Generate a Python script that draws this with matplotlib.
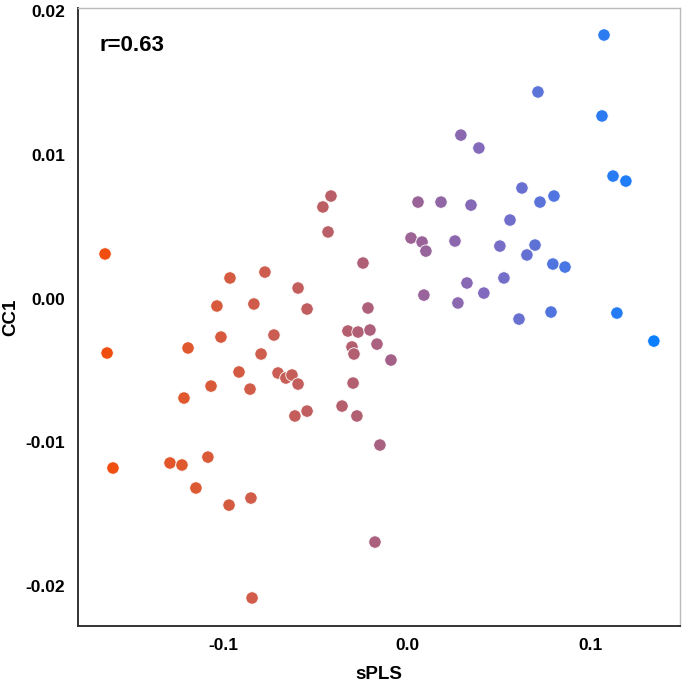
import numpy as np
import matplotlib
matplotlib.use("Agg")
from matplotlib import pyplot as plt
from matplotlib.colors import LinearSegmentedColormap

plt.rcParams['font.family'] = ['Liberation Sans', 'DejaVu Sans']

# sPLS score (x) vs CC1 score (y)
spls = np.array([
    -0.1641, -0.1630, -0.1598, -0.0962, -0.0772, -0.0592, -0.1033, -0.0832,
    -0.0543, -0.1011, -0.0723, -0.1190, -0.0793, -0.0913, -0.0701, -0.0658,
    -0.0625, -0.0592, -0.1065, -0.0853, -0.1212, -0.0609, -0.0543, -0.0413,
    -0.0457, -0.0429, -0.0239, -0.0212, -0.0321, -0.0266, -0.0201, -0.0299,
    -0.0288, -0.0163, -0.0087, -0.0293, -0.0353, -0.0272, -0.0147, 0.0060,
    0.0185, 0.0348, 0.0022, 0.0082, 0.0103, 0.0261, 0.0505, 0.0092,
    0.0326, 0.0418, 0.0277, 0.0391, 0.0293, 0.1060, 0.1071, 0.0712,
    0.1120, 0.1190, 0.0625, 0.0723, 0.0799, 0.0560, 0.0696, 0.0652,
    0.0793, 0.0859, 0.0527, 0.0783, 0.0609, 0.1141, 0.1342, -0.1288,
    -0.1223, -0.1082, -0.1147, -0.0967, -0.0848, -0.0842, -0.0174,
])
cc1 = np.array([
    0.00310, -0.00379, -0.01179, 0.00143, 0.00184, 0.00073, -0.00052, -0.00038,
    -0.00073, -0.00268, -0.00254, -0.00344, -0.00386, -0.00511, -0.00518, -0.00553,
    -0.00532, -0.00595, -0.00609, -0.00630, -0.00692, -0.00817, -0.00783, 0.00713,
    0.00637, 0.00463, 0.00247, -0.00066, -0.00226, -0.00233, -0.00219, -0.00337,
    -0.00386, -0.00317, -0.00428, -0.00588, -0.00748, -0.00817, -0.01019, 0.00671,
    0.00671, 0.00650, 0.00421, 0.00393, 0.00330, 0.00400, 0.00365, 0.00024,
    0.00108, 0.00038, -0.00031, 0.01047, 0.01137, 0.01270, 0.01833, 0.01437,
    0.00852, 0.00817, 0.00769, 0.00671, 0.00713, 0.00546, 0.00372, 0.00303,
    0.00240, 0.00219, 0.00143, -0.00094, -0.00143, -0.00101, -0.00296, -0.01144,
    -0.01158, -0.01103, -0.01318, -0.01437, -0.01388, -0.02083, -0.01694,
])

xticks = [-0.1, 0.0, 0.1]
xticklabels = ['-0.1', '0.0', '0.1']
yticks = [-0.02, -0.01, 0.0, 0.01, 0.02]
yticklabels = ['-0.02', '-0.01', '0.00', '0.01', '0.02']
r_text = 'r=0.63'

cmap = LinearSegmentedColormap.from_list('orange_blue', [
    (0.00, '#F04E0E'),
    (0.14, '#E0582E'),
    (0.32, '#C95E55'),
    (0.45, '#B35F70'),
    (0.57, '#9A6398'),
    (0.70, '#7F6BC0'),
    (0.85, '#4478E8'),
    (1.00, '#0A7FFF'),
])

fig = plt.figure(figsize=(6.85, 6.84), dpi=100)
ax = fig.add_axes([78 / 685, 1 - 626 / 684, 602 / 685, 618 / 684])

ax.scatter(spls, cc1, c=spls, cmap=cmap, s=80, edgecolors='white',
           linewidths=0.6, zorder=3)

ax.set_xlim(-0.1788, 0.1484)
ax.set_ylim(-0.02278, 0.02021)
ax.set_xticks(xticks, xticklabels)
ax.set_yticks(yticks, yticklabels)
ax.tick_params(length=0, labelsize=12.5, pad=9)
for lab in ax.get_xticklabels() + ax.get_yticklabels():
    lab.set_fontweight('bold')

ax.set_xlabel('sPLS', fontsize=13.5, fontweight='bold', labelpad=9)
ax.set_ylabel('CC1', fontsize=13.5, fontweight='bold', labelpad=5)

ax.text(0.0365, 0.930, r_text, transform=ax.transAxes, fontsize=16,
        fontweight='bold', va='baseline', ha='left')

for side in ['left', 'bottom']:
    ax.spines[side].set_color('#333333')
    ax.spines[side].set_linewidth(1.4)
for side in ['top', 'right']:
    ax.spines[side].set_color('#BBBBBB')
    ax.spines[side].set_linewidth(1.0)

fig.savefig('out.png', dpi=100)
